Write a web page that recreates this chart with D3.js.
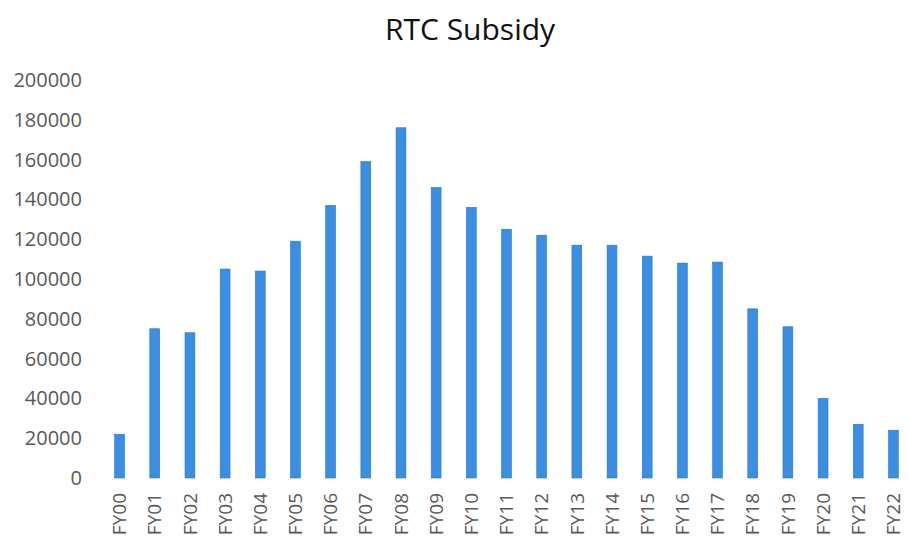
<!DOCTYPE html>
<html>
<head>
<meta charset="utf-8">
<script src="https://cdn.jsdelivr.net/npm/d3@7"></script>
<style>
	body { margin: 0; background: #fff; }
	text { font-family: "Open Sans", sans-serif; }
</style>
</head>
<body>
<div id="chart"></div>
<script>
// data
var years = ["FY00", "FY01", "FY02", "FY03", "FY04", "FY05", "FY06", "FY07", "FY08", "FY09", "FY10", "FY11",
	"FY12", "FY13", "FY14", "FY15", "FY16", "FY17", "FY18", "FY19", "FY20", "FY21", "FY22"];
var subsidy = [22000, 75000, 73000, 105000, 104000, 119000, 137000, 159000, 176000, 146000, 136000, 125000,
	122000, 117000, 117000, 111500, 108000, 108500, 85000, 76000, 40000, 27000, 24000];
var yTicks = [0, 20000, 40000, 60000, 80000, 100000, 120000, 140000, 160000, 180000, 200000];

var svgWidth = 909;
var svgHeight = 544;

var svg = d3.select("#chart")
	.append("svg")
	.attr("width", svgWidth)
	.attr("height", svgHeight);

var data = years.map((y, i) => ({ year: y, value: subsidy[i] }));

var xScale = d3.scaleBand()
	.domain(years)
	.range([102, 911])
	.paddingInner(0.72)
	.paddingOuter(0.36);

var yScale = d3.scaleLinear()
	.domain([0, 200000])
	.range([478, 80]);

// title
svg.append("text")
	.attr("x", 470)
	.attr("y", 40)
	.attr("text-anchor", "middle")
	.attr("font-size", 30)
	.attr("fill", "#111")
	.text("RTC Subsidy");

// y axis, labels only
var yAxis = svg.append("g")
	.attr("transform", "translate(88,0)")
	.call(d3.axisLeft(yScale).tickValues(yTicks).tickSize(0).tickPadding(6).tickFormat(d3.format("d")));
yAxis.select(".domain").remove();
yAxis.selectAll("text")
	.attr("font-size", 20)
	.attr("font-family", "Open Sans, sans-serif")
	.attr("fill", "#595959");

// bars
svg.selectAll("rect.bar")
	.data(data)
	.enter()
	.append("rect")
	.attr("class", "bar")
	.attr("x", d => xScale(d.year))
	.attr("y", d => yScale(d.value))
	.attr("width", xScale.bandwidth())
	.attr("height", d => yScale(0) - yScale(d.value))
	.attr("fill", "#3b8fe2")
	.attr("stroke", "#2f74c6")
	.attr("stroke-width", 0.6);

// x axis, rotated labels
var xAxis = svg.append("g")
	.attr("transform", "translate(0,480)")
	.call(d3.axisBottom(xScale).tickSize(0).tickPadding(0));
xAxis.select(".domain").remove();
xAxis.selectAll("text")
	.attr("font-size", 19)
	.attr("font-family", "Open Sans, sans-serif")
	.attr("fill", "#595959")
	.attr("text-anchor", "end")
	.attr("transform", "rotate(-90)")
	.attr("x", -13)
	.attr("y", 0)
	.attr("dy", "0.35em");
</script>
</body>
</html>
